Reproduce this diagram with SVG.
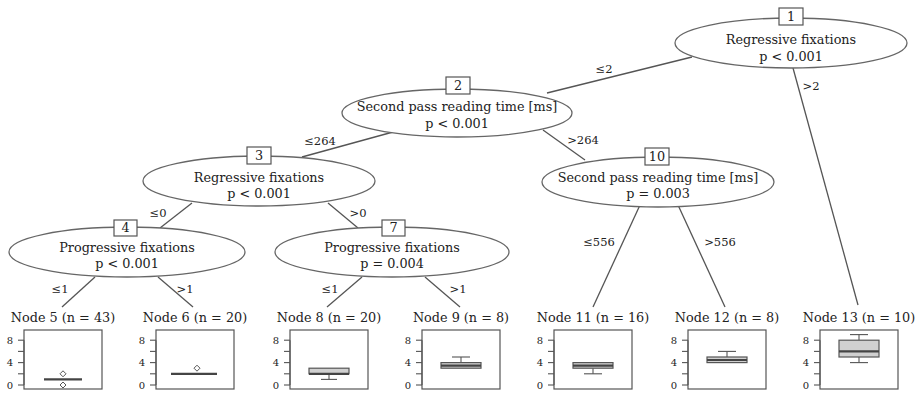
<svg xmlns="http://www.w3.org/2000/svg" width="917" height="394" viewBox="0 0 917 394">
<style>
.bg{fill:#fff}
.ell{fill:#fff;stroke:#666;stroke-width:1.3}
.lb{fill:#fff;stroke:#555;stroke-width:1.2}
.t{font-family:"DejaVu Serif","Liberation Serif",serif;font-size:12.8px;fill:#222;text-anchor:middle}
.e{font-family:"DejaVu Serif","Liberation Serif",serif;font-size:11.5px;fill:#222;text-anchor:middle}
.ax{font-family:"DejaVu Serif","Liberation Serif",serif;font-size:10px;fill:#222;text-anchor:middle}
.ln{stroke:#555;stroke-width:1.3;fill:none}
.pb{fill:#fff;stroke:#555;stroke-width:1.2}
.bx{fill:#d0d0d0;stroke:#555;stroke-width:1.2}
.md{stroke:#444;stroke-width:2.2}
.wk{stroke:#555;stroke-width:1.1;fill:none}
.od{fill:#fff;stroke:#555;stroke-width:1}
</style>
<rect class="bg" x="0" y="0" width="917" height="394"/>
<g id="connectors">
<line class="ln" x1="692" y1="57" x2="547" y2="93"/>
<line class="ln" x1="793" y1="68" x2="858" y2="305"/>
<line class="ln" x1="393" y1="132" x2="302" y2="157"/>
<line class="ln" x1="543" y1="130" x2="585" y2="160"/>
<line class="ln" x1="192" y1="203" x2="160" y2="228"/>
<line class="ln" x1="328" y1="203" x2="358" y2="228"/>
<line class="ln" x1="95" y1="277" x2="62" y2="307"/>
<line class="ln" x1="158" y1="277" x2="193" y2="307"/>
<line class="ln" x1="362" y1="277" x2="327" y2="307"/>
<line class="ln" x1="425" y1="277" x2="460" y2="307"/>
<line class="ln" x1="640" y1="205" x2="593" y2="307"/>
<line class="ln" x1="678" y1="205" x2="725" y2="307"/>
<text class="e" x="604" y="73">≤2</text>
<text class="e" x="811" y="90">&gt;2</text>
<text class="e" x="320" y="145">≤264</text>
<text class="e" x="583" y="144">&gt;264</text>
<text class="e" x="158" y="217">≤0</text>
<text class="e" x="358" y="217">&gt;0</text>
<text class="e" x="60" y="293">≤1</text>
<text class="e" x="185" y="293">&gt;1</text>
<text class="e" x="330" y="293">≤1</text>
<text class="e" x="458" y="293">&gt;1</text>
<text class="e" x="599" y="246">≤556</text>
<text class="e" x="720" y="246">&gt;556</text>
</g>
<g id="node1">
<ellipse class="ell" cx="791" cy="43" rx="116" ry="25"/>
<rect class="lb" x="779" y="8" width="24" height="17"/>
<text class="t" x="791" y="21">1</text>
<text class="t" x="791" y="44">Regressive fixations</text>
<text class="t" x="791" y="61">p &lt; 0.001</text>
</g>
<g id="node2">
<ellipse class="ell" cx="457" cy="113" rx="115" ry="24"/>
<rect class="lb" x="446" y="77" width="24" height="17"/>
<text class="t" x="458" y="90">2</text>
<text class="t" x="457" y="111">Second pass reading time [ms]</text>
<text class="t" x="457" y="128">p &lt; 0.001</text>
</g>
<g id="node3">
<ellipse class="ell" cx="259" cy="181" rx="116" ry="25"/>
<rect class="lb" x="247" y="147" width="24" height="17"/>
<text class="t" x="259" y="160">3</text>
<text class="t" x="259" y="182">Regressive fixations</text>
<text class="t" x="259" y="198">p &lt; 0.001</text>
</g>
<g id="node10">
<ellipse class="ell" cx="658" cy="182" rx="116" ry="25"/>
<rect class="lb" x="645" y="148" width="24" height="17"/>
<text class="t" x="657" y="161">10</text>
<text class="t" x="658" y="182">Second pass reading time [ms]</text>
<text class="t" x="658" y="198">p = 0.003</text>
</g>
<g id="node4">
<ellipse class="ell" cx="127" cy="252" rx="118" ry="25"/>
<rect class="lb" x="114" y="220" width="23" height="16"/>
<text class="t" x="125.5" y="232">4</text>
<text class="t" x="127" y="252">Progressive fixations</text>
<text class="t" x="127" y="268">p &lt; 0.001</text>
</g>
<g id="node7">
<ellipse class="ell" cx="392" cy="252" rx="117" ry="25"/>
<rect class="lb" x="382" y="220" width="23" height="16"/>
<text class="t" x="393.5" y="232">7</text>
<text class="t" x="392" y="252">Progressive fixations</text>
<text class="t" x="392" y="268">p = 0.004</text>
</g>
<defs>
<g id="axis">
<line class="wk" x1="0" y1="340.2" x2="0" y2="385"/>
<line class="wk" x1="-6" y1="340.2" x2="0" y2="340.2"/>
<line class="wk" x1="-6" y1="351.4" x2="0" y2="351.4"/>
<line class="wk" x1="-6" y1="362.6" x2="0" y2="362.6"/>
<line class="wk" x1="-6" y1="373.8" x2="0" y2="373.8"/>
<line class="wk" x1="-6" y1="385" x2="0" y2="385"/>
<text class="ax" x="-14" y="343.5">8</text>
<text class="ax" x="-14" y="366">4</text>
<text class="ax" x="-14" y="388.5">0</text>
</g>
</defs>
<g id="node5">
<text class="t" x="63" y="322">Node 5 (n = 43)</text>
<rect class="pb" x="24" y="330" width="78" height="59"/>
<use href="#axis" x="24"/>
<line class="md" x1="44" y1="379.4" x2="82" y2="379.4"/>
<path class="od" d="M63 370.8 L66 373.8 L63 376.8 L60 373.8 Z"/>
<path class="od" d="M63 382 L66 385 L63 388 L60 385 Z"/>
</g>
<g id="node6">
<text class="t" x="195" y="322">Node 6 (n = 20)</text>
<rect class="pb" x="156" y="330" width="78" height="59"/>
<use href="#axis" x="156"/>
<line class="md" x1="171" y1="373.8" x2="217" y2="373.8"/>
<path class="od" d="M197 365.2 L200 368.2 L197 371.2 L194 368.2 Z"/>
</g>
<g id="node8">
<text class="t" x="329" y="322">Node 8 (n = 20)</text>
<rect class="pb" x="290" y="330" width="78" height="59"/>
<use href="#axis" x="290"/>
<line class="wk" x1="329" y1="373.8" x2="329" y2="379.4"/>
<line class="wk" x1="321" y1="379.4" x2="337" y2="379.4"/>
<rect class="bx" x="309" y="368.2" width="40" height="5.6"/>
<line class="md" x1="309" y1="373.8" x2="349" y2="373.8"/>
</g>
<g id="node9">
<text class="t" x="461" y="322">Node 9 (n = 8)</text>
<rect class="pb" x="422" y="330" width="78" height="59"/>
<use href="#axis" x="422"/>
<line class="wk" x1="461" y1="357" x2="461" y2="362.6"/>
<line class="wk" x1="452" y1="357" x2="470" y2="357"/>
<rect class="bx" x="441" y="362.6" width="40" height="5.6"/>
<line class="md" x1="441" y1="365.6" x2="481" y2="365.6"/>
</g>
<g id="node11">
<text class="t" x="593" y="322">Node 11 (n = 16)</text>
<rect class="pb" x="554" y="330" width="78" height="59"/>
<use href="#axis" x="554"/>
<line class="wk" x1="593" y1="368.2" x2="593" y2="373.8"/>
<line class="wk" x1="584" y1="373.8" x2="602" y2="373.8"/>
<rect class="bx" x="573" y="362.6" width="40" height="5.6"/>
<line class="md" x1="573" y1="365.6" x2="613" y2="365.6"/>
</g>
<g id="node12">
<text class="t" x="727" y="322">Node 12 (n = 8)</text>
<rect class="pb" x="688" y="330" width="78" height="59"/>
<use href="#axis" x="688"/>
<line class="wk" x1="727" y1="351.4" x2="727" y2="357"/>
<line class="wk" x1="718" y1="351.4" x2="736" y2="351.4"/>
<rect class="bx" x="707" y="357" width="40" height="5.6"/>
<line class="md" x1="707" y1="360" x2="747" y2="360"/>
</g>
<g id="node13">
<text class="t" x="859" y="322">Node 13 (n = 10)</text>
<rect class="pb" x="820" y="330" width="78" height="59"/>
<use href="#axis" x="820"/>
<line class="wk" x1="859" y1="334.6" x2="859" y2="340.2"/>
<line class="wk" x1="850" y1="334.6" x2="868" y2="334.6"/>
<line class="wk" x1="859" y1="357" x2="859" y2="362.6"/>
<line class="wk" x1="850" y1="362.6" x2="868" y2="362.6"/>
<rect class="bx" x="839" y="340.2" width="40" height="16.8"/>
<line class="md" x1="839" y1="351.4" x2="879" y2="351.4"/>
</g>
</svg>
